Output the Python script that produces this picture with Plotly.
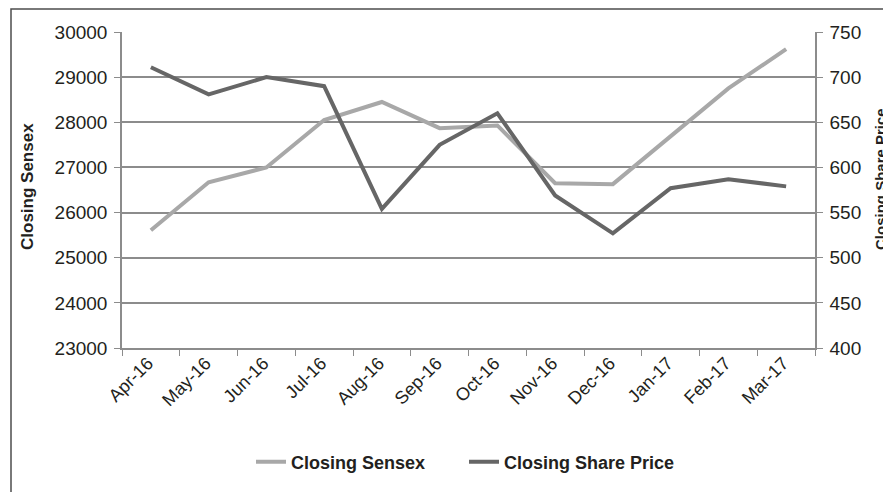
import plotly.graph_objects as go

months = ["Apr-16", "May-16", "Jun-16", "Jul-16", "Aug-16", "Sep-16",
          "Oct-16", "Nov-16", "Dec-16", "Jan-17", "Feb-17", "Mar-17"]
sensex = [25610, 26670, 27000, 28050, 28450, 27870, 27930, 26650, 26630, 27700, 28750, 29620]
share_price = [711, 681, 700, 690, 554, 625, 660, 569, 527, 577, 587, 579]

FONT = "Liberation Sans, Arial, sans-serif"
GRID = "#8c8c8c"
TXT = "#231f20"

# page body has an 8px margin; work in page pixels and convert
OFF = 8
W, H = 891 - OFF, 492 - OFF
PL, PR, PT, PB = 122, 815, 32, 348          # plot area in page pixels
PW, PH = PR - PL, PB - PT


def px(x):
    return (x - PL) / PW


def py(y):
    return (PB - y) / PH


fig = go.Figure()
fig.add_trace(go.Scatter(x=months, y=sensex, name="Closing Sensex", mode="lines",
                         line=dict(color="#a8a8a8", width=4), yaxis="y"))
fig.add_trace(go.Scatter(x=months, y=share_price, name="Closing Share Price", mode="lines",
                         line=dict(color="#666666", width=4), yaxis="y2"))

fig.update_layout(
    width=W, height=H,
    margin=dict(l=PL - OFF, r=W - (PR - OFF), t=PT - OFF, b=H - (PB - OFF)),
    paper_bgcolor="white", plot_bgcolor="white",
    font=dict(family=FONT, color=TXT, size=19),
    showlegend=True,
    legend=dict(orientation="h", x=px(251), xanchor="left", y=py(462),
                yanchor="middle", entrywidth=168,
                font=dict(size=18, family=FONT, color=TXT, weight="bold"),
                tracegroupgap=0),
    xaxis=dict(type="category", range=[-0.5, len(months) - 0.5],
               showline=True, linecolor=GRID, linewidth=1.5,
               ticks="outside", ticklen=6, tickcolor=GRID, tickson="boundaries",
               tickangle=-45, tickfont=dict(size=18), showgrid=False, zeroline=False,
               ticklabelshift=-3, ticklabelstandoff=-4),
    yaxis=dict(range=[23000, 30000], dtick=1000, tickformat="d", showline=True,
               linecolor=GRID, linewidth=1.5,
               ticks="outside", ticklen=6, tickcolor=GRID, gridcolor=GRID, gridwidth=1.5,
               tickfont=dict(size=19), zeroline=False, ticklabelstandoff=3),
    yaxis2=dict(range=[400, 750], dtick=50, tickformat="d", overlaying="y", side="right",
                showline=True,
                linecolor=GRID, linewidth=1.5, ticks="outside", ticklen=6, tickcolor=GRID,
                showgrid=False, tickfont=dict(size=19), zeroline=False, ticklabelstandoff=3),
    annotations=[
        dict(text="<b>Closing Sensex</b>", xref="paper", yref="paper",
             x=px(28), y=py(187), xanchor="center", yanchor="middle",
             textangle=-90, showarrow=False, font=dict(size=17, family=FONT, color=TXT)),
        dict(text="<b>Closing Share Price</b>", xref="paper", yref="paper",
             x=px(880), y=py(179), xanchor="center", yanchor="middle",
             textangle=-90, showarrow=False, font=dict(size=15, family=FONT, color=TXT)),
    ],
    shapes=[
        dict(type="rect", xref="paper", yref="paper",
             x0=px(11), x1=px(900), y0=py(500), y1=py(9),
             line=dict(color="#4d4d4d", width=1.5), fillcolor="rgba(0,0,0,0)", layer="below"),
    ],
)

fig.write_html("out.html")
